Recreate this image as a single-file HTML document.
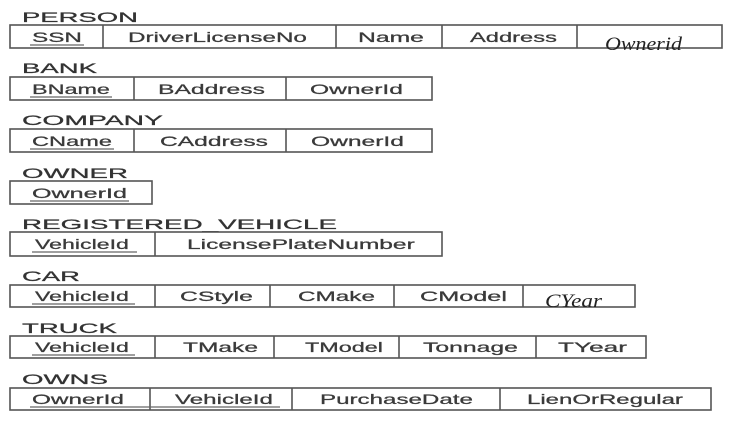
<!DOCTYPE html>
<html><head><meta charset="utf-8"><style>
html,body{margin:0;padding:0;background:#fff;}
svg{display:block;}
.t{font-family:"Liberation Sans",Arial,sans-serif;font-size:14px;fill:#333;stroke:#333;stroke-width:0.25;}
.a{font-family:"Liberation Sans",Arial,sans-serif;font-size:13.5px;fill:#3a3a3a;stroke:#3a3a3a;stroke-width:0.25;}
.i{font-family:"Liberation Serif",serif;font-style:italic;font-size:19px;fill:#222;}
rect,line{stroke:#555;stroke-width:1.6;fill:none;}
.u{stroke:#666;stroke-width:1.2;}
</style></head><body>
<svg id="s" width="733" height="421" viewBox="0 0 733 421" xmlns="http://www.w3.org/2000/svg">
<!-- PERSON -->
<text class="t" x="22" y="22" textLength="116">PERSON</text>
<rect x="10" y="25" width="712" height="23"/>
<line x1="103" y1="25" x2="103" y2="48"/><line x1="336" y1="25" x2="336" y2="48"/><line x1="442" y1="25" x2="442" y2="48"/><line x1="577" y1="25" x2="577" y2="48"/>
<text class="a" x="32" y="42" textLength="50">SSN</text>
<line class="u" x1="30" y1="45" x2="84" y2="45"/>
<text class="a" x="128" y="42" textLength="179">DriverLicenseNo</text>
<text class="a" x="358" y="42" textLength="66">Name</text>
<text class="a" x="470" y="42" textLength="87">Address</text>
<text class="i" x="605" y="50" textLength="77">Ownerid</text>
<!-- BANK -->
<text class="t" x="22" y="73" textLength="75">BANK</text>
<rect x="10" y="77" width="422" height="23"/>
<line x1="134" y1="77" x2="134" y2="100"/><line x1="286" y1="77" x2="286" y2="100"/>
<text class="a" x="32" y="94" textLength="78">BName</text>
<line class="u" x1="30" y1="97" x2="112" y2="97"/>
<text class="a" x="158" y="94" textLength="107">BAddress</text>
<text class="a" x="310" y="94" textLength="93">OwnerId</text>
<!-- COMPANY -->
<text class="t" x="22" y="125" textLength="141">COMPANY</text>
<rect x="10" y="129" width="422" height="23"/>
<line x1="134" y1="129" x2="134" y2="152"/><line x1="286" y1="129" x2="286" y2="152"/>
<text class="a" x="32" y="146" textLength="80">CName</text>
<line class="u" x1="30" y1="149" x2="114" y2="149"/>
<text class="a" x="160" y="146" textLength="108">CAddress</text>
<text class="a" x="311" y="146" textLength="93">OwnerId</text>
<!-- OWNER -->
<text class="t" x="22" y="178" textLength="106">OWNER</text>
<rect x="10" y="181" width="142" height="23"/>
<text class="a" x="32" y="198" textLength="95">OwnerId</text>
<line class="u" x1="30" y1="201" x2="129" y2="201"/>
<!-- REGISTERED_VEHICLE -->
<text class="t" x="22" y="229" textLength="315">REGISTERED_VEHICLE</text>
<rect x="10" y="232" width="432" height="24"/>
<line x1="155" y1="232" x2="155" y2="256"/>
<text class="a" x="35" y="249" textLength="94">VehicleId</text>
<line class="u" x1="32" y1="252" x2="137" y2="252"/>
<text class="a" x="187" y="249" textLength="228">LicensePlateNumber</text>
<!-- CAR -->
<text class="t" x="22" y="281" textLength="58">CAR</text>
<rect x="10" y="285" width="625" height="22"/>
<line x1="155" y1="285" x2="155" y2="307"/><line x1="270" y1="285" x2="270" y2="307"/><line x1="394" y1="285" x2="394" y2="307"/><line x1="523" y1="285" x2="523" y2="307"/>
<text class="a" x="35" y="301" textLength="94">VehicleId</text>
<line class="u" x1="32" y1="304" x2="135" y2="304"/>
<text class="a" x="180" y="301" textLength="73">CStyle</text>
<text class="a" x="298" y="301" textLength="77">CMake</text>
<text class="a" x="420" y="301" textLength="87">CModel</text>
<text class="i" x="545" y="307" textLength="57">CYear</text>
<!-- TRUCK -->
<text class="t" x="22" y="333" textLength="95">TRUCK</text>
<rect x="10" y="336" width="636" height="22"/>
<line x1="155" y1="336" x2="155" y2="358"/><line x1="274" y1="336" x2="274" y2="358"/><line x1="399" y1="336" x2="399" y2="358"/><line x1="536" y1="336" x2="536" y2="358"/>
<text class="a" x="35" y="352" textLength="94">VehicleId</text>
<line class="u" x1="32" y1="355" x2="135" y2="355"/>
<text class="a" x="183" y="352" textLength="75">TMake</text>
<text class="a" x="305" y="352" textLength="78">TModel</text>
<text class="a" x="423" y="352" textLength="95">Tonnage</text>
<text class="a" x="558" y="352" textLength="69">TYear</text>
<!-- OWNS -->
<text class="t" x="22" y="384" textLength="86">OWNS</text>
<rect x="10" y="388" width="701" height="22"/>
<line x1="150" y1="388" x2="150" y2="410"/><line x1="292" y1="388" x2="292" y2="410"/><line x1="500" y1="388" x2="500" y2="410"/>
<text class="a" x="32" y="404" textLength="92">OwnerId</text>
<line class="u" x1="30" y1="407" x2="280" y2="407"/>
<text class="a" x="175" y="404" textLength="98">VehicleId</text>
<text class="a" x="320" y="404" textLength="153">PurchaseDate</text>
<text class="a" x="527" y="404" textLength="156">LienOrRegular</text>
</svg>
<script>
(function(){
  var ts=document.querySelectorAll('#s text');
  for(var k=0;k<ts.length;k++){
    var t=ts[k];
    var w=parseFloat(t.getAttribute('textLength'));
    var x=parseFloat(t.getAttribute('x')), y=parseFloat(t.getAttribute('y'));
    t.removeAttribute('textLength');
    var n=t.getComputedTextLength();
    if(n>0){
      var sx=w/n;
      t.setAttribute('x','0');t.setAttribute('y','0');
      t.setAttribute('transform','translate('+x+','+y+') scale('+sx+',1)');
    }
  }
})();
</script>
</body></html>
